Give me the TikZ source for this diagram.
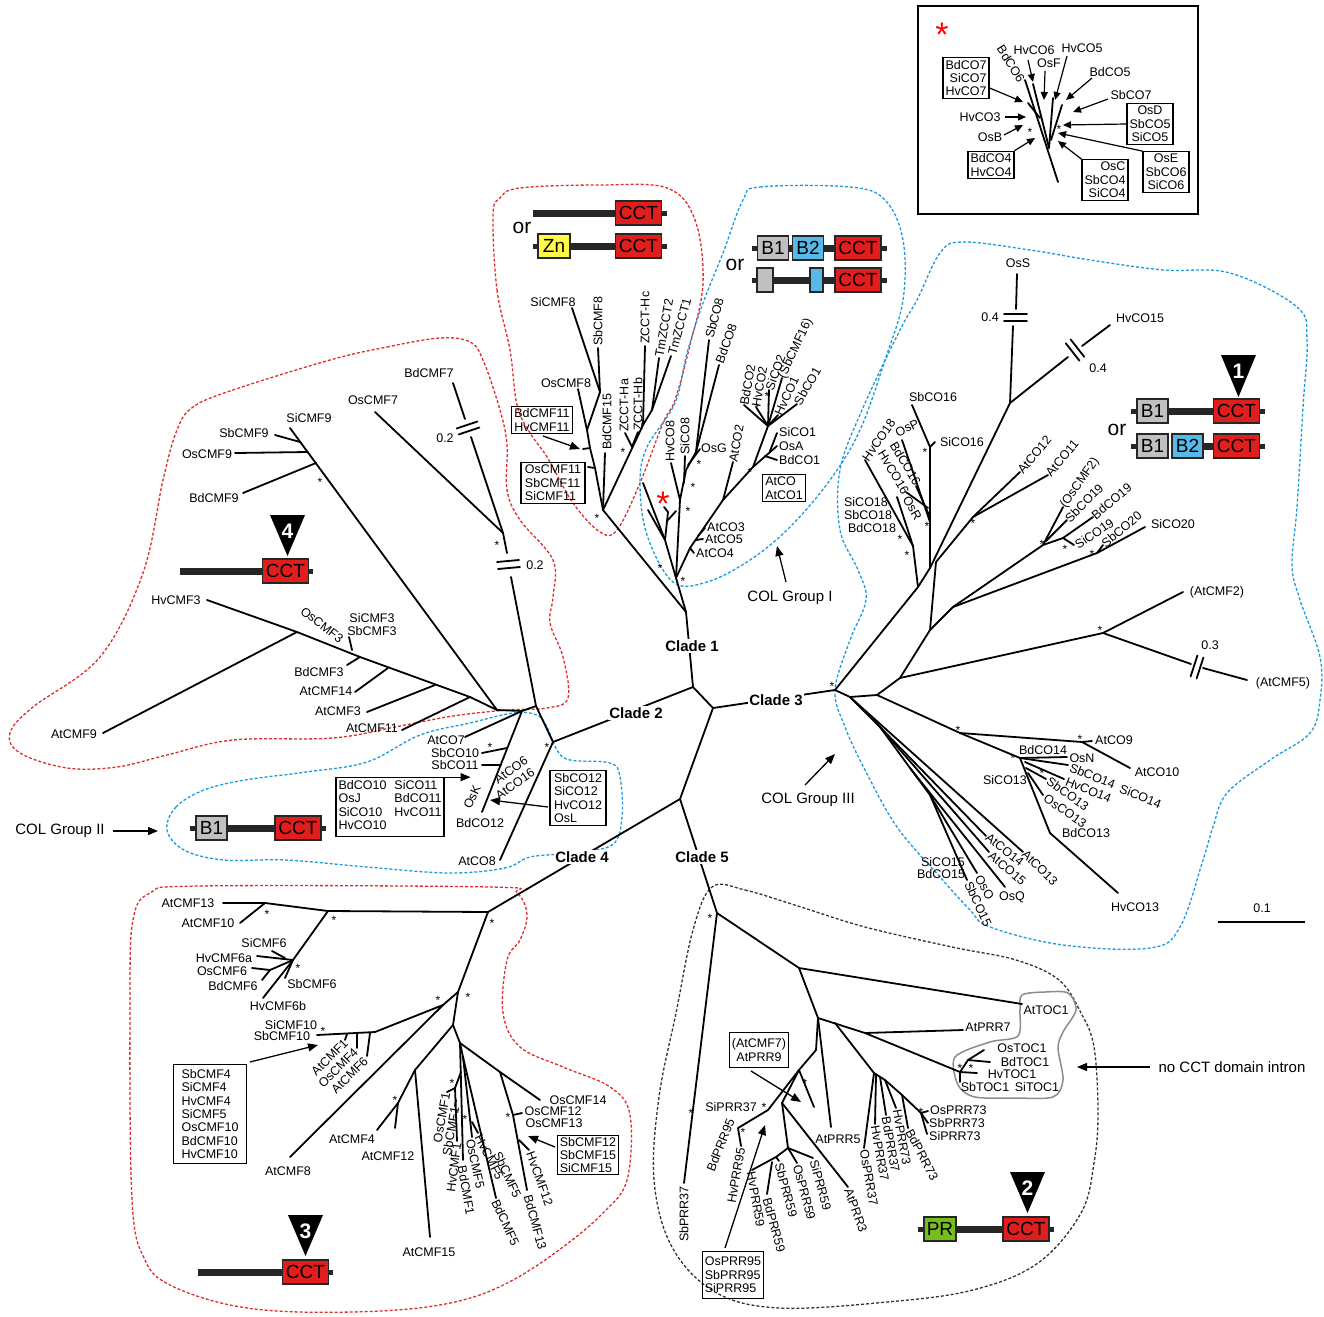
\documentclass[tikz,border=0pt]{standalone}
\usepackage{fontspec}
\setmainfont{Liberation Sans}
\usetikzlibrary{arrows.meta}
\definecolor{cctred}{RGB}{225,30,30}
\definecolor{bgrey}{RGB}{192,192,192}
\definecolor{bblue}{RGB}{88,184,232}
\definecolor{znyel}{RGB}{255,250,70}
\definecolor{prgreen}{RGB}{118,190,30}
\definecolor{dred}{RGB}{222,45,45}
\definecolor{dblue}{RGB}{30,155,220}
\newcommand\lfs{\fontsize{12.5}{13.4}\selectfont}
\newcommand\sfs{\fontsize{12}{12}\selectfont}
\newcommand\dfs{\fontsize{19}{19}\selectfont}
\newcommand\cfs{\fontsize{15}{15}\selectfont}
\newcommand\nfs{\fontsize{21}{21}\selectfont}
\newcommand\ofs{\fontsize{21}{21}\selectfont}
\begin{document}
\begin{tikzpicture}[x=1pt,y=-1pt,
  br/.style={line width=1.8pt,line cap=round,line join=round},
  lb/.style={font=\lfs,inner sep=0pt},
  st/.style={font=\sfs,inner sep=0pt,yshift=-2.4pt},
  bigst/.style={font=\fontsize{34}{34}\selectfont,text=red,inner sep=0pt,yshift=-7pt},
  bx/.style={draw,line width=1.1pt,font=\lfs,inner sep=2.5pt,align=left},
  arw/.style={line width=1.3pt,-{Triangle[length=10pt,width=8pt]}},
  sarw/.style={line width=1.2pt,-{Triangle[length=8pt,width=7pt]}},
  dbar/.style={line width=7pt,draw=black!85},
  dtab/.style={line width=5pt,draw=black!85},
  dom/.style={draw=black!85,line width=1.4pt,minimum height=24pt,inner sep=0pt,font=\dfs},
  cct/.style={dom,fill=cctred,minimum width=46pt},
  bone/.style={dom,fill=bgrey,minimum width=31pt},
  btwo/.style={dom,fill=bblue,minimum width=31pt},
  clade/.style={font=\cfs\bfseries,fill=white,inner sep=1.5pt},
  grp/.style={font=\cfs,inner sep=0pt},
  rdash/.style={draw=dred,line width=1.3pt,dash pattern=on 3pt off 2pt},
  bdash/.style={draw=dblue,line width=1.3pt,dash pattern=on 3pt off 2pt},
  kdash/.style={draw=black!80,line width=1.3pt,dash pattern=on 3pt off 2pt},
  num/.style={text=white,font=\nfs\bfseries,inner sep=0pt},
  orl/.style={font=\ofs,inner sep=0pt}
]
\fill[white] (0,0) rectangle (1324,1316);
\useasboundingbox (0,0) rectangle (1324,1316);

% ---------------- outlines ----------------
\draw[rdash] plot[smooth cycle,tension=0.6] coordinates {(493,215) (497,290) (510,350) (517,405) (530,433) (547,457) (573,503) (600,532) (617,530) (640,483) (663,423) (675,400) (690,345) (703,283) (695,220) (667,188) (600,185) (520,188) (500,198)};
\draw[rdash] plot[smooth cycle,tension=0.6] coordinates {(330,360) (387,347) (440,338) (470,342) (483,360) (500,410) (507,445) (507,490) (520,520) (553,560) (553,597) (550,623) (563,657) (568,698) (547,708) (507,710) (453,716) (400,726) (333,738) (233,740) (167,755) (117,767) (67,768) (20,753) (10,733) (33,707) (100,657) (143,573) (163,480) (177,430) (193,407) (233,390)};
\draw[bdash] plot[smooth cycle,tension=0.6] coordinates {(743,200) (760,187) (850,187) (885,200) (903,240) (903,300) (885,360) (860,430) (830,480) (790,527) (750,560) (707,582) (673,582) (647,535) (640,483) (647,447) (675,403) (687,353) (703,303) (723,253)};
\draw[bdash] plot[smooth cycle,tension=0.6] coordinates {(167,830) (176,807) (204,790) (245,780) (306,772) (367,762) (420,735) (470,723) (513,713) (537,715) (547,727) (557,750) (570,760) (610,763) (620,777) (622,817) (612,845) (570,853) (530,857) (505,868) (449,873) (367,867) (286,860) (224,860) (184,850)};
\draw[bdash] plot[smooth cycle,tension=0.6] coordinates {(940,253) (963,242) (1030,250) (1090,260) (1163,270) (1230,273) (1297,307) (1307,340) (1303,407) (1297,507) (1292,565) (1300,600) (1320,657) (1320,700) (1310,733) (1270,760) (1227,793) (1213,827) (1203,860) (1180,927) (1150,948) (1063,945) (990,927) (970,910) (940,877) (897,827) (865,770) (845,727) (835,690) (850,640) (866,600) (858,570) (840,530) (840,470) (862,410) (900,330) (917,300)};
\draw[kdash] plot[smooth cycle,tension=0.6] coordinates {(712,887) (745,890) (801,907) (865,927) (952,947) (1016,960) (1059,980) (1081,1013) (1094,1047) (1098,1113) (1094,1163) (1081,1213) (1038,1263) (973,1290) (887,1302) (779,1308) (715,1292) (672,1247) (654,1180) (659,1097) (676,1013) (693,930)};
\draw[rdash] plot[smooth cycle,tension=0.6] coordinates {(150,893) (200,886) (490,887) (517,893) (527,915) (520,940) (507,960) (503,1013) (520,1047) (563,1067) (610,1087) (630,1115) (627,1180) (603,1213) (563,1247) (513,1280) (463,1300) (397,1310) (300,1312) (230,1305) (170,1285) (145,1260) (132,1200) (130,1000) (133,920)};
\draw[draw=black!45,line width=1.5pt] plot[smooth cycle,tension=0.5] coordinates {(1022,995) (1045,992) (1068,993) (1076,1010) (1063,1032) (1058,1048) (1063,1080) (1053,1097) (1015,1098) (975,1097) (958,1085) (955,1057) (990,1042) (1018,1036) (1020,1010)};

% ---------------- centre ----------------
\coordinate (A) at (693,687);
\coordinate (B) at (713,708);
\coordinate (C) at (680,799);
\coordinate (c1) at (686,612);
\coordinate (c2) at (553,742);
\coordinate (c3) at (835,690);
\coordinate (c4) at (488,912);
\coordinate (c5) at (717,913);
\draw[br] (c1)--(A)--(B)--(C);
\draw[br] (A)--(c2);
\draw[br] (B)--(c3);
\draw[br] (C)--(c4);
\draw[br] (C)--(c5);

% ---------------- clade 1 : CMF ----------------
\coordinate (n8) at (603,510);
\coordinate (zn) at (643,425);
\draw[br] (c1)--(n8);
\draw[br] (n8)--(605,453);
\draw[br] (n8)--(595,468)--(590,448)--(587,430)--(578,389);
\draw[br] (587,430)--(600,392)--(572,308);
\draw[br] (600,392)--(598,348);
\draw[br] (595,468)--(588,467);
\draw[br] (590,448)--(583,449);
\draw[br] (n8)--(zn);
\draw[br] (632,447)--(625,433);
\draw[br] (632,447)--(638,432);
\draw[br] (zn)--(645,346);
\draw[br] (zn)--(652,410)--(659,358);
\draw[br] (652,410)--(671,356);

% ---------------- clade 1 : COL group I ----------------
\coordinate (g1) at (676,578);
\draw[br] (c1)--(g1);
\draw[br] (g1)--(680,500)--(686,470)--(696,452)--(709,340);
\draw[br] (696,452)--(719,365);
\draw[br] (680,500)--(671,463);
\draw[br] (684,483)--(685,456);
\draw[br] (688,465)--(700,449);
\draw[br] (g1)--(665,540)--(643,483);
\draw[br] (665,540)--(648,510);
\draw[br] (665,540)--(668,512)--(664,507);
\draw[br] (668,520)--(676,511);
\draw[br] (g1)--(690,548)--(723,500);
\draw[br] (698,536)--(705,528);
\draw[br] (696,540)--(703,539);
\draw[br] (690,548)--(694,553);
\draw[br] (723,500)--(733,462);
\draw[br] (723,500)--(753,467)--(777,446);
\draw[br] (765,456)--(777,460);
\draw[br] (770,451)--(777,433);
\coordinate (fan) at (768,426);
\draw[br] (753,467)--(fan);
\draw[br] (fan)--(744,405);
\draw[br] (fan)--(756,407);
\draw[br] (fan)--(769,390);
\draw[br] (fan)--(782,378);
\draw[br] (fan)--(778,415);
\draw[br] (fan)--(797,404);

% ---------------- clade 2 ----------------
\coordinate (n2) at (522,711);
\coordinate (s7) at (536,706);
\coordinate (n7) at (503,533);
\coordinate (m9) at (497,710);
\coordinate (m3) at (470,697);
\draw[br] (c2)--(s7)--(511,577);
\draw[br] (507,553)--(n7);
\draw[br] (497,562)--(519,560);
\draw[br] (498,569)--(520,567);
\draw[br] (n7)--(375,412);
\draw[br] (n7)--(471,437);
\draw[br] (465,419)--(453,383);
\draw[br] (456.6,428.5)--(477.4,421.5);
\draw[br] (458.6,434.5)--(479.4,427.5);
\draw[br] (n2)--(s7);
\draw[br] (290,428)--(m9)--(n2);
\draw[br] (275,435)--(300,442);
\draw[br] (235,453)--(308,452);
\draw[br] (243,493)--(316,463);
\draw[br] (m3)--(m9);
\draw[br] (297,632)--(360,657)--(m3);
\draw[br] (207,600)--(297,632);
\draw[br] (103,733)--(297,632);
\draw[br] (347,665)--(360,657);
\draw[br] (349,637)--(352,650);
\draw[br] (355,692)--(388,668);
\draw[br] (367,712)--(435,685);
\draw[br] (402,730)--(m3);
\draw[br] (n2)--(465,737);
\draw[br] (n2)--(482,812);
\draw[br] (507,748)--(482,753);
\draw[br] (501,765)--(482,765);
\draw[br] (c2)--(500,860);

% ---------------- clade 3 ----------------
\coordinate (p1) at (918,587);
\coordinate (h18) at (913,546);
\coordinate (q1) at (930,568);
\coordinate (s16) at (930,522);
\coordinate (os) at (1010,403);
\coordinate (l0) at (850,697);
\coordinate (m1) at (877,695);
\coordinate (m2) at (900,678);
\coordinate (m3b) at (930,630);
\coordinate (m4) at (953,607);
\coordinate (a11) at (973,517);
\coordinate (o2) at (1043,545);
\coordinate (s20) at (1097,553);
\coordinate (af) at (1103,633);
\coordinate (a9) at (960,733);
\coordinate (a9b) at (1082,742);
\coordinate (c13) at (1020,758);
\coordinate (l1) at (880,727);
\coordinate (l2) at (910,768);
\coordinate (l3) at (930,795);
\draw[br] (c3)--(p1)--(h18)--(865,460);
\draw[br] (h18)--(897,497);
\draw[br] (p1)--(q1)--(s16)--(930,447)--(912,405);
\draw[br] (930,447)--(935,442);
\draw[br] (s16)--(902,440);
\draw[br] (929,515)--(916,486);
\draw[br] (928,508)--(906,492);
\draw[br] (q1)--(os);
\draw[br] (os)--(1013,326);
\draw[br] (1016,309)--(1017,274);
\draw[br] (1004,314)--(1027,314);
\draw[br] (1004,321)--(1027,321);
\draw[br] (os)--(1068,357);
\draw[br] (1082,346)--(1110,325);
\draw[br] (1065.8,343.3)--(1079.4,360.7);
\draw[br] (1070.6,339.4)--(1084.2,356.8);
\draw[br] (c3)--(l0)--(m1)--(m2)--(af);
\draw[br] (af)--(1183,592);
\draw[br] (af)--(1191,664);
\draw[br] (1203,668)--(1247,680);
\draw[br] (1190.6,676.5)--(1197.4,655.5);
\draw[br] (1196.6,678.5)--(1203.4,657.5);
\draw[br] (m2)--(m3b)--(936,562)--(a11);
\draw[br] (a11)--(1020,472);
\draw[br] (a11)--(1048,475);
\draw[br] (m3b)--(m4)--(o2)--(1063,507);
\draw[br] (1046,541)--(1067,520);
\draw[br] (o2)--(1063,538)--(1093,517);
\draw[br] (1063,538)--(1074,545);
\draw[br] (m4)--(s20)--(1103,545);
\draw[br] (s20)--(1145,527);
\draw[br] (m1)--(a9)--(a9b)--(1092,741);
\draw[br] (a9b)--(1130,768);
\draw[br] (a9)--(c13);
\draw[br] (c13)--(1067,757);
\draw[br] (c13)--(1068,765);
\draw[br] (1025,762)--(1064,779);
\draw[br] (1026,768)--(1046,779);
\draw[br] (1028,773)--(1043,795);
\draw[br] (c13)--(1050,833)--(1118,893);
\draw[br] (l0)--(1023,852);
\draw[br] (l0)--(l1)--(986,836);
\draw[br] (l1)--(989,852);
\draw[br] (l1)--(l2)--(1005,887);
\draw[br] (l2)--(l3)--(977,873);
\draw[br] (l3)--(967,880);

% ---------------- clade 4 ----------------
\coordinate (d1) at (328,911);
\coordinate (d2) at (265,903);
\coordinate (d3) at (293,960);
\coordinate (d4) at (458,992);
\coordinate (d5) at (443,1005);
\coordinate (d6) at (375,1032);
\coordinate (d7) at (453,1025);
\coordinate (d8) at (415,1070);
\coordinate (d9) at (398,1103);
\coordinate (e1) at (460,1043);
\coordinate (e2) at (463,1057);
\coordinate (e3) at (500,1072);
\coordinate (e4) at (513,1115);
\draw[br] (c4)--(d1)--(d2)--(223,903);
\draw[br] (d2)--(240,923);
\draw[br] (d1)--(d3)--(263,998);
\draw[br] (d3)--(257,956);
\draw[br] (285,958)--(272,951);
\draw[br] (d3)--(270,970)--(252,968);
\draw[br] (270,970)--(262,980);
\draw[br] (d3)--(285,978);
\draw[br] (c4)--(d4)--(d5)--(290,1157);
\draw[br] (d5)--(d6)--(317,1035);
\draw[br] (347,1034)--(345,1040);
\draw[br] (357,1034)--(357,1048);
\draw[br] (370,1033)--(367,1056);
\draw[br] (d4)--(d7)--(d8)--(d9)--(377,1130);
\draw[br] (d9)--(395,1128);
\draw[br] (d8)--(430,1237);
\draw[br] (d7)--(e1)--(463,1160);
\draw[br] (461,1072)--(455,1088)--(457,1141);
\draw[br] (455,1088)--(447,1092);
\draw[br] (456,1100)--(455,1106);
\draw[br] (e1)--(e2)--(496,1198);
\draw[br] (e2)--(472,1137);
\draw[br] (472,1122)--(478,1133);
\draw[br] (e1)--(e3)--(540,1100);
\draw[br] (e3)--(e4)--(527,1190);
\draw[br] (e4)--(522,1113);
\draw[br] (519,1140)--(529,1150);

% ---------------- clade 5 ----------------
\coordinate (p5a) at (799,968);
\coordinate (p5b) at (818,1018);
\coordinate (k7) at (865,1033);
\coordinate (k73) at (835,1023);
\coordinate (t1) at (960,1072);
\coordinate (qa) at (816,1050);
\coordinate (qb) at (799,1070);
\coordinate (qc) at (768,1110);
\coordinate (qd) at (782,1103);
\coordinate (qe) at (788,1148);
\draw[br] (c5)--(684,1183);
\draw[br] (c5)--(p5a)--(1022,1004);
\draw[br] (p5a)--(p5b)--(k7)--(963,1030);
\draw[br] (k7)--(t1);
\draw[br] (t1)--(968,1060)--(984,1050);
\draw[br] (968,1060)--(990,1062);
\draw[br] (t1)--(977,1073);
\draw[br] (t1)--(960,1082);
\draw[br] (k73)--(874,1073)--(885,1080)--(902,1095)--(921,1113)--(928,1111);
\draw[br] (921,1113)--(928,1123);
\draw[br] (921,1113)--(927,1134);
\draw[br] (874,1073)--(864,1148);
\draw[br] (876,1075)--(875,1124);
\draw[br] (880,1077)--(886,1115);
\draw[br] (885,1080)--(896,1108);
\draw[br] (902,1095)--(908,1128);
\draw[br] (p5b)--(831,1127);
\draw[br] (p5b)--(qa)--(qb)--(814,1107);
\draw[br] (qb)--(qc)--(738,1128)--(741,1146);
\draw[br] (qb)--(qd)--(848,1187);
\draw[br] (qd)--(qe)--(776,1157)--(752,1170);
\draw[br] (776,1157)--(779,1161);
\draw[br] (772,1162)--(767,1194);
\draw[br] (qe)--(797,1163);
\draw[br] (qe)--(813,1158);

% ---------------- inset tree ----------------
\draw[line width=1.3pt] (918,6) rectangle (1198,214);
\draw[br] (1025,80)--(1058,182);
\draw[br] (1033,84)--(1049,148);
\draw[br] (1049,148)--(1053,98);
\draw[br] (1051,140)--(1062,105);
\draw[br] (1040,118)--(1028,103);

% ---------------- stars ----------------
\foreach \x/\y [count=\i] in {597/516,623/450,699/462,693/485,688/509,660/566,683/579,750/470,757/405,767/394,
  320/480,497/543,490/745,547/745,
  832/684,925/450,927/524,907/553,900/537,973/521,1042/542,1065/547,1092/552,1100/628,958/728,1080/737,1013/756,1042/771,
  492/921,267/912,334/918,298/966,323/1029,468/995,438/998,395/1098,452/1081,465/1117,508/1115,
  710/916,691/1111,764/1105,805/1081,921/1110,960/1066,971/1066,743/1130,
  1030/130,1059/127}
  \node[st] (st\i) at (\x,\y) {*};
\node[bigst] (redstar1) at (663,497) {*};
\node[bigst] (redstar2) at (942,28) {*};

% ---------------- horizontal labels ----------------
\foreach \x/\y/\t [count=\i] in {553/302/SiCMF8,566/383/OsCMF8,714/448/OsG,
  309/418/SiCMF9,244/433/SbCMF9,207/454/OsCMF9,214/498/BdCMF9,373/400/OsCMF7,429/373/BdCMF7,
  176/600/HvCMF3,372/618/SiCMF3,372/631/SbCMF3,319/672/BdCMF3,326/691/AtCMF14,338/711/AtCMF3,372/728/AtCMF11,74/734/AtCMF9,
  446/740/AtCO7,455/753/SbCO10,455/765/SbCO11,480/823/BdCO12,477/861/AtCO8,
  1018/263/OsS,1140/318/HvCO15,933/397/SbCO16,962/442/SiCO16,866/502/SiCO18,868/515/SbCO18,872/528/BdCO18,
  1173/524/SiCO20,1217/592/(AtCMF2),1283/683/(AtCMF5),1043/750/BdCO14,1082/758/OsN,1005/780/SiCO13,1086/833/BdCO13,
  1135/907/HvCO13,943/862/SiCO15,941/874/BdCO15,1012/897/OsQ,1157/772/AtCO10,
  188/903/AtCMF13,208/923/AtCMF10,264/943/SiCMF6,224/958/HvCMF6a,222/971/OsCMF6,233/986/BdCMF6,312/984/SbCMF6,
  278/1006/HvCMF6b,291/1025/SiCMF10,282/1036/SbCMF10,288/1171/AtCMF8,352/1139/AtCMF4,388/1156/AtCMF12,429/1252/AtCMF15,
  578/1100/OsCMF14,553/1111/OsCMF12,554/1123/OsCMF13,
  731/1107/SiPRR37,838/1139/AtPRR5,1046/1010/AtTOC1,988/1027/AtPRR7,1022/1048/OsTOC1,1025/1062/BdTOC1,1012/1074/HvTOC1,
  985/1087/SbTOC1,1037/1087/SiTOC1,
  1034/50/HvCO6,1082/48/HvCO5,1049/63/OsF,1110/72/BdCO5,1131/95/SbCO7,980/117/HvCO3,990/137/OsB,
  445/438/0.2,535/565/0.2,990/317/0.4,1098/368/0.4,1210/645/0.3,1262/908/0.1}
  \node[lb] (h\i) at (\x,\y) {\t};

% ---------------- west-anchored labels ----------------
\foreach \x/\y/\t [count=\i] in {779/432/SiCO1,779/446/OsA,779/460/BdCO1,707/527/AtCO3,705/539/AtCO5,696/553/AtCO4,
  1095/740/AtCO9,930/1110/OsPRR73,929/1123/SbPRR73,929/1136/SiPRR73}
  \node[lb,anchor=west] (w\i) at (\x,\y) {\t};

% ---------------- rotated labels ----------------
\foreach \x/\y/\r/\a/\t [count=\i] in {598/346/90/west/SbCMF8,607/450/90/west/BdCMF15,624/432/90/west/ZCCT-Ha,
  638/431/90/west/ZCCT-Hb,645/344/90/west/ZCCT-Hc,659/357/80/west/TmZCCT2,672/355/75/west/TmZCCT1,
  709/338/75/west/SbCO8,719/363/70/west/BdCO8,670/462/90/west/HvCO8,685/455/90/west/SiCO8,733/462/80/west/AtCO2,
  744/405/80/west/BdCO2,756/407/80/west/HvCO2,769/390/70/west/SiCO2,782/378/65/west/(SbCMF16),778/415/65/west/HvCO1,
  797/404/60/west/SbCO1,
  322/625/-38/center/OsCMF3,511/770/35/center/AtCO6,515/784/35/center/AtCO16,472/797/65/center/OsK,
  865/460/55/west/HvCO18,907/428/25/center/OsP,918/484/-59/east/BdCO16,906/493/-59/east/HvCO16,906/497/-60/west/OsR,
  1020/472/50/west/AtCO12,1048/475/50/west/AtCO11,1063/507/55/west/(OsCMF2),1067/520/45/west/SbCO19,
  1093/517/40/west/BdCO19,1076/546/34/west/SiCO19,1103/545/40/west/SbCO20,
  1070/767/-22/west/SbCO14,1066/781/-22/west/HvCO14,1120/788/-22/west/SiCO14,1048/780/-35/west/SbCO13,
  1045/797/-35/west/OsCO13,987/836/-38/west/AtCO14,990/854/-40/west/AtCO15,1024/852/-45/west/AtCO13,
  978/876/-60/west/OsO,968/882/-65/west/SbCO15,
  346/1041/45/east/AtCMF1,356/1050/45/east/OsCMF4,366/1059/45/east/AtCMF6,446/1093/80/east/OsCMF1,
  455/1107/80/east/SbCMF1,457/1143/83/east/HvCMF1,462/1166/-80/west/BdCMF1,470/1139/-78/west/OsCMF5,
  478/1135/-63/west/HvCMF5,497/1152/-65/west/SbCMF5,495/1200/-65/west/BdCMF5,530/1152/-70/west/HvCMF12,
  528/1195/-75/west/BdCMF13,
  684/1186/90/east/SbPRR37,731/1119/68/east/BdPRR95,741/1148/80/east/HvPRR95,751/1172/-80/west/HvPRR59,
  779/1163/-75/west/SbPRR59,767/1198/-75/west/BdPRR59,797/1165/-75/west/OsPRR59,814/1160/-75/west/SiPRR59,
  848/1189/-70/west/AtPRR3,864/1150/-80/west/OsPRR37,875/1126/-80/west/HvPRR37,886/1117/-80/west/BdPRR37,
  897/1110/-80/west/HvPRR73,909/1130/-62/west/BdPRR73,
  1011/64/-58/center/BdCO6}
  \node[lb,rotate=\r,anchor=\a] (r\i) at (\x,\y) {\t};

% ---------------- boxed labels ----------------
\node[bx] (bx11a) at (542,420) {BdCMF11\\HvCMF11};
\node[bx,inner xsep=4pt] (bx11b) at (553,483) {OsCMF11\\SbCMF11\\SiCMF11};
\node[bx] (bxatco) at (784,488) {AtCO\\AtCO1};
\node[bx] (bxc2) at (390,807) {\begin{tabular}{@{}l@{\hspace{8pt}}l@{}}BdCO10&SiCO11\\OsJ&BdCO11\\SiCO10&HvCO11\\HvCO10&\end{tabular}};
\node[bx,inner xsep=4pt] (bxc12) at (578,798) {SbCO12\\SiCO12\\HvCO12\\OsL};
\node[bx,inner xsep=8pt,inner ysep=5pt] (bxcmf4) at (210,1114) {SbCMF4\\SiCMF4\\HvCMF4\\SiCMF5\\OsCMF10\\BdCMF10\\HvCMF10};
\node[bx,inner ysep=1.5pt] (bxcmf12) at (588,1155) {SbCMF12\\SbCMF15\\SiCMF15};
\node[bx,align=center,inner ysep=6pt] (bxprr9) at (759,1050) {(AtCMF7)\\AtPRR9};
\node[bx,inner ysep=6pt] (bxprr95) at (733,1275) {OsPRR95\\SbPRR95\\SiPRR95};
\node[bx,align=right] (bxco7) at (966,78) {BdCO7\\SiCO7\\HvCO7};
\node[bx] (bxco4) at (991,165) {BdCO4\\HvCO4};
\node[bx,align=center] (bxosd) at (1150,124) {OsD\\SbCO5\\SiCO5};
\node[bx,align=center] (bxose) at (1166,172) {OsE\\SbCO6\\SiCO6};
\node[bx,align=right] (bxosc) at (1105,180) {OsC\\SbCO4\\SiCO4};

% ---------------- arrows ----------------
\draw[arw] (543,436)--(580,449);
\draw[arw] (bxc2.north east)--++(26,0);
\draw[arw] (548,807)--(490,800);
\draw[arw] (250,1062)--(318,1045);
\draw[arw] (555,1147)--(528,1136);
\draw[arw] (751,1071)--(801,1102);
\draw[arw] (725,1248)--(765,1125);
\draw[arw] (1150,1067)--(1077,1067);
\draw[arw] (786,582)--(777,546);
\draw[arw] (805,785)--(835,754);
\draw[arw] (113,831)--(158,831);
\draw[sarw] (1028,60)--(1033,82);
\draw[sarw] (1067,56)--(1055,100);
\draw[sarw] (1045,71)--(1044,100);
\draw[sarw] (1092,78)--(1066,100);
\draw[sarw] (1108,99)--(1073,112);
\draw[sarw] (bxco7.east |- 0,88)--(1023,102);
\draw[sarw] (1005,117)--(1026,117);
\draw[sarw] (1004,135)--(1023,125);
\draw[sarw] (bxco4.north east)--(1035,138);
\draw[sarw] (bxosd.west)--(1063,125);
\draw[sarw] (bxose.north west)--(1058,133);
\draw[sarw] (bxosc.north west)--(1058,141);

% ---------------- group labels ----------------
\node[clade] (cl1) at (692,646) {Clade 1};
\node[clade] (cl2) at (636,713) {Clade 2};
\node[clade] (cl3) at (776,700) {Clade 3};
\node[clade] (cl4) at (582,857) {Clade 4};
\node[clade] (cl5) at (702,857) {Clade 5};
\node[grp] (g1l) at (790,598) {COL Group I};
\node[grp] (g2l) at (60,831) {COL Group II};
\node[grp] (g3l) at (808,800) {COL Group III};
\node[grp] (nocct) at (1232,1067) {no CCT domain intron};
\draw[line width=2pt] (1218,922)--(1305,922);

% ---------------- domain diagrams ----------------
\draw[dbar] (533,213)--(616,213);
\node[cct] (d1cct) at (638.5,213) {CCT};
\draw[dtab] (661,213)--(667,213);
\node[orl] (or1) at (522,228) {or};
\draw[dtab] (533,246)--(539,246);
\node[dom,fill=znyel,minimum width=32pt] (d1zn) at (554,246) {Zn};
\draw[dbar] (570,246)--(616,246);
\node[cct] (d1cct2) at (638.5,246) {CCT};
\draw[dtab] (661,246)--(667,246);
\node[orl] (or2) at (735,265) {or};
\draw[dtab] (752,248)--(759,248);
\node[bone] (g1b1) at (773,248) {B1};
\draw[dbar] (788,248)--(793,248);
\node[btwo] (g1b2) at (808,248) {B2};
\draw[dbar] (823,248)--(836,248);
\node[cct] (g1cct) at (858,248) {CCT};
\draw[dtab] (881,248)--(887,248);
\draw[dtab] (752,280)--(758,280);
\node[dom,fill=bgrey,minimum width=16pt] (g1g) at (765,280) {};
\draw[dbar] (773,280)--(810,280);
\node[dom,fill=bblue,minimum width=13pt] (g1bb) at (816.5,280) {};
\draw[dbar] (823,280)--(836,280);
\node[cct] (g1cct2) at (858,280) {CCT};
\draw[dtab] (881,280)--(887,280);
\fill (1221,355)--(1256,355)--(1238.5,397)--cycle;
\node[num] (tri1) at (1238.5,371) {1};
\node[orl] (or3) at (1117,430) {or};
\draw[dtab] (1131,411)--(1138,411);
\node[bone] (g3b1) at (1152.5,411) {B1};
\draw[dbar] (1168,411)--(1214,411);
\node[cct] (g3cct) at (1236.5,411) {CCT};
\draw[dtab] (1259,411)--(1265,411);
\draw[dtab] (1131,446)--(1138,446);
\node[bone] (g3b1b) at (1152.5,446) {B1};
\node[btwo] (g3b2) at (1187.5,446) {B2};
\draw[dbar] (1203,446)--(1214,446);
\node[cct] (g3cct2) at (1236.5,446) {CCT};
\draw[dtab] (1259,446)--(1265,446);
\fill (270,515)--(305,515)--(287.5,556)--cycle;
\node[num] (tri4) at (287.5,531) {4};
\draw[dbar] (180,571)--(263,571);
\node[cct] (c2cct) at (285.5,571) {CCT};
\draw[dtab] (308,571)--(313,571);
\draw[dtab] (190,828)--(197,828);
\node[bone] (g2b1) at (211.5,828) {B1};
\draw[dbar] (227,828)--(276,828);
\node[cct] (g2cct) at (298,828) {CCT};
\draw[dtab] (320,828)--(326,828);
\fill (288,1215)--(323,1215)--(305.5,1256)--cycle;
\node[num] (tri3) at (305.5,1231) {3};
\draw[dbar] (198,1272)--(283,1272);
\node[cct] (c4cct) at (305.5,1272) {CCT};
\draw[dtab] (328,1272)--(333,1272);
\fill (1010,1172)--(1045,1172)--(1027.5,1213)--cycle;
\node[num] (tri2) at (1027.5,1188) {2};
\draw[dtab] (918,1229)--(925,1229);
\node[dom,fill=prgreen,minimum width=32pt] (c5pr) at (940,1229) {PR};
\draw[dbar] (956,1229)--(1004,1229);
\node[cct] (c5cct) at (1026,1229) {CCT};
\draw[dtab] (1048,1229)--(1054,1229);
\end{tikzpicture}
\end{document}
